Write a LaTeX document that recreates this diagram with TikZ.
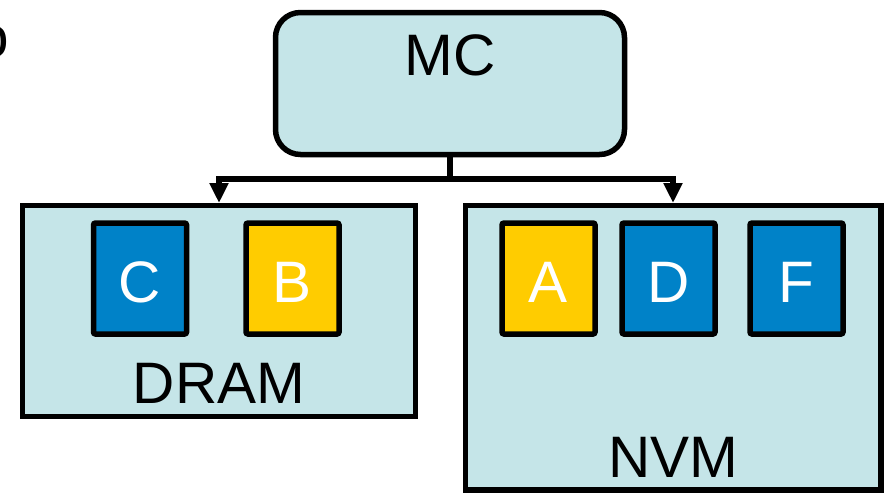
\documentclass[tikz,border=0pt]{standalone}
\usepackage{fontspec}
\setmainfont{Liberation Sans}
\usetikzlibrary{arrows.meta}
\definecolor{panel}{RGB}{197,229,232}
\definecolor{pageblue}{RGB}{0,130,200}
\definecolor{pageyellow}{RGB}{255,204,0}
\tikzset{
  box/.style={draw=black, line width=5.5pt, inner sep=0pt},
  panelbox/.style={box, fill=panel},
  pagebox/.style={box, rounded corners=2pt, minimum width=93pt, minimum height=111pt},
  bluepage/.style={pagebox, fill=pageblue},
  yellowpage/.style={pagebox, fill=pageyellow},
  bigtext/.style={inner sep=0pt, anchor=base, font=\fontsize{58.5}{62}\selectfont},
  pagetext/.style={bigtext, text=white},
  link/.style={line width=5.5pt, draw=black},
  linkarrow/.style={link, -{Triangle[width=18pt,length=20pt]}}
}
\begin{document}
\begin{tikzpicture}[x=1pt, y=-1pt]
  \useasboundingbox (0,0) rectangle (886,493);

  % memory controller
  \node[panelbox, rounded corners=25pt, minimum width=349pt, minimum height=142pt] (mc) at (450,83.5) {};
  \node[bigtext] (mclabel) at (450,75) {MC};

  % memory panels
  \node[panelbox, minimum width=393pt, minimum height=211pt] (dram) at (219,311) {};
  \node[panelbox, minimum width=415.5pt, minimum height=284.5pt] (nvm) at (673.25,347.75) {};
  \node[bigtext] (dramlabel) at (219,403) {DRAM};
  \node[bigtext] (nvmlabel) at (673,477) {NVM};

  % pages
  \node[bluepage] (pc) at (140,278.5) {};
  \node[yellowpage] (pb) at (292.5,278.5) {};
  \node[yellowpage] (pa) at (548.5,278.5) {};
  \node[bluepage] (pd) at (668.5,278.5) {};
  \node[bluepage] (pf) at (796.5,278.5) {};
  \node[pagetext] (lc) at (140,302) {C};
  \node[pagetext] (lb) at (292.5,302) {B};
  \node[pagetext] (la) at (548.5,302) {A};
  \node[pagetext] (ld) at (668.5,302) {D};
  \node[pagetext] (lf) at (796.5,302) {F};

  % connectors from the controller
  \coordinate (split) at (450,179);
  \coordinate (dramin) at (219,203);
  \coordinate (nvmin) at (673,203);
  \draw[link] (mc.south) -- (split);
  \draw[linkarrow] (split) -| (dramin);
  \draw[linkarrow] (split) -| (nvmin);

  % trailing letter at the left edge
  \node[inner sep=0pt, anchor=base east, font=\fontsize{58.5}{62}\selectfont] (edge) at (9,57) {o};
\end{tikzpicture}
\end{document}
